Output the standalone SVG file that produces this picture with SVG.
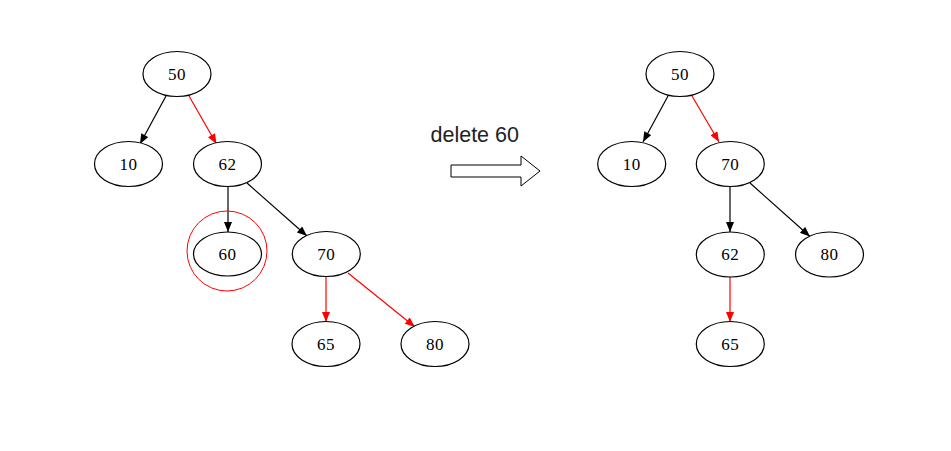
<svg xmlns="http://www.w3.org/2000/svg" width="951" height="451" viewBox="0 0 951 451">
<defs>
<style>
.n ellipse{fill:#fff;stroke:#000;stroke-width:1.2}
.n text{font-family:"Liberation Serif","Times New Roman",serif;font-size:17px;text-anchor:middle;fill:#000;letter-spacing:0.5px}
.e line{stroke-width:1.2}
.k{stroke:#000}
.r{stroke:#f00}
</style>
<marker id="ak" viewBox="0 0 10 8" refX="10" refY="4" markerWidth="11" markerHeight="8" markerUnits="userSpaceOnUse" orient="auto"><path d="M0,0 L10,4 L0,8 Z" fill="#000"/></marker>
<marker id="ar" viewBox="0 0 10 8" refX="10" refY="4" markerWidth="11" markerHeight="8" markerUnits="userSpaceOnUse" orient="auto"><path d="M0,0 L10,4 L0,8 Z" fill="#f00"/></marker>
</defs>
<rect width="951" height="451" fill="#fff"/>
<g id="connectors" class="e">
<line class="k" x1="166" y1="96" x2="140" y2="144" marker-end="url(#ak)"/>
<line class="r" x1="189" y1="96" x2="216.5" y2="144" marker-end="url(#ar)"/>
<line class="k" x1="228" y1="186" x2="228" y2="232" marker-end="url(#ak)"/>
<line class="k" x1="247" y1="183" x2="307" y2="236" marker-end="url(#ak)"/>
<line class="r" x1="326" y1="276" x2="326" y2="322" marker-end="url(#ar)"/>
<line class="r" x1="348" y1="273" x2="415" y2="327" marker-end="url(#ar)"/>
<line class="k" x1="668" y1="96" x2="643" y2="142" marker-end="url(#ak)"/>
<line class="r" x1="692" y1="96" x2="719" y2="142" marker-end="url(#ar)"/>
<line class="k" x1="730" y1="186" x2="730" y2="232" marker-end="url(#ak)"/>
<line class="k" x1="750" y1="183" x2="810" y2="236.5" marker-end="url(#ak)"/>
<line class="r" x1="730" y1="276" x2="730" y2="322" marker-end="url(#ar)"/>
</g>
<g id="n50a" class="n"><ellipse cx="177" cy="74" rx="34" ry="22.5"/><text x="177" y="79.5">50</text></g>
<g id="n10a" class="n"><ellipse cx="128.5" cy="164" rx="34" ry="22.5"/><text x="128.5" y="169.5">10</text></g>
<g id="n62a" class="n"><ellipse cx="227.5" cy="164" rx="34" ry="22.5"/><text x="227.5" y="169.5">62</text></g>
<g id="n60a" class="n"><circle cx="227" cy="251" r="40" fill="none" stroke="#f00" stroke-width="1"/><ellipse cx="227.5" cy="254" rx="34" ry="22"/><text x="227.5" y="259.5">60</text></g>
<g id="n70a" class="n"><ellipse cx="326.3" cy="254" rx="34" ry="22.5"/><text x="326.3" y="259.5">70</text></g>
<g id="n65a" class="n"><ellipse cx="326" cy="344" rx="34" ry="22.5"/><text x="326" y="349.5">65</text></g>
<g id="n80a" class="n"><ellipse cx="435" cy="344" rx="34" ry="22.5"/><text x="435" y="349.5">80</text></g>
<g id="op">
<text x="430.5" y="141.5" font-family="Liberation Sans,Arial,sans-serif" font-size="21.5" fill="#222">delete 60</text>
<polygon points="451,165 521,165 521,156 540,171 521,186 521,177 451,177" fill="#fff" stroke="#000" stroke-width="1"/>
</g>
<g id="n50b" class="n"><ellipse cx="680" cy="74" rx="34" ry="22.5"/><text x="680" y="79.5">50</text></g>
<g id="n10b" class="n"><ellipse cx="631.7" cy="164" rx="34" ry="22.5"/><text x="631.7" y="169.5">10</text></g>
<g id="n70b" class="n"><ellipse cx="730.3" cy="164" rx="34" ry="22.5"/><text x="730.3" y="169.5">70</text></g>
<g id="n62b" class="n"><ellipse cx="730.3" cy="254.5" rx="34" ry="22.5"/><text x="730.3" y="260">62</text></g>
<g id="n80b" class="n"><ellipse cx="829.5" cy="254.5" rx="34" ry="22.5"/><text x="829.5" y="260">80</text></g>
<g id="n65b" class="n"><ellipse cx="730.3" cy="344" rx="34" ry="22.5"/><text x="730.3" y="349.5">65</text></g>
</svg>
